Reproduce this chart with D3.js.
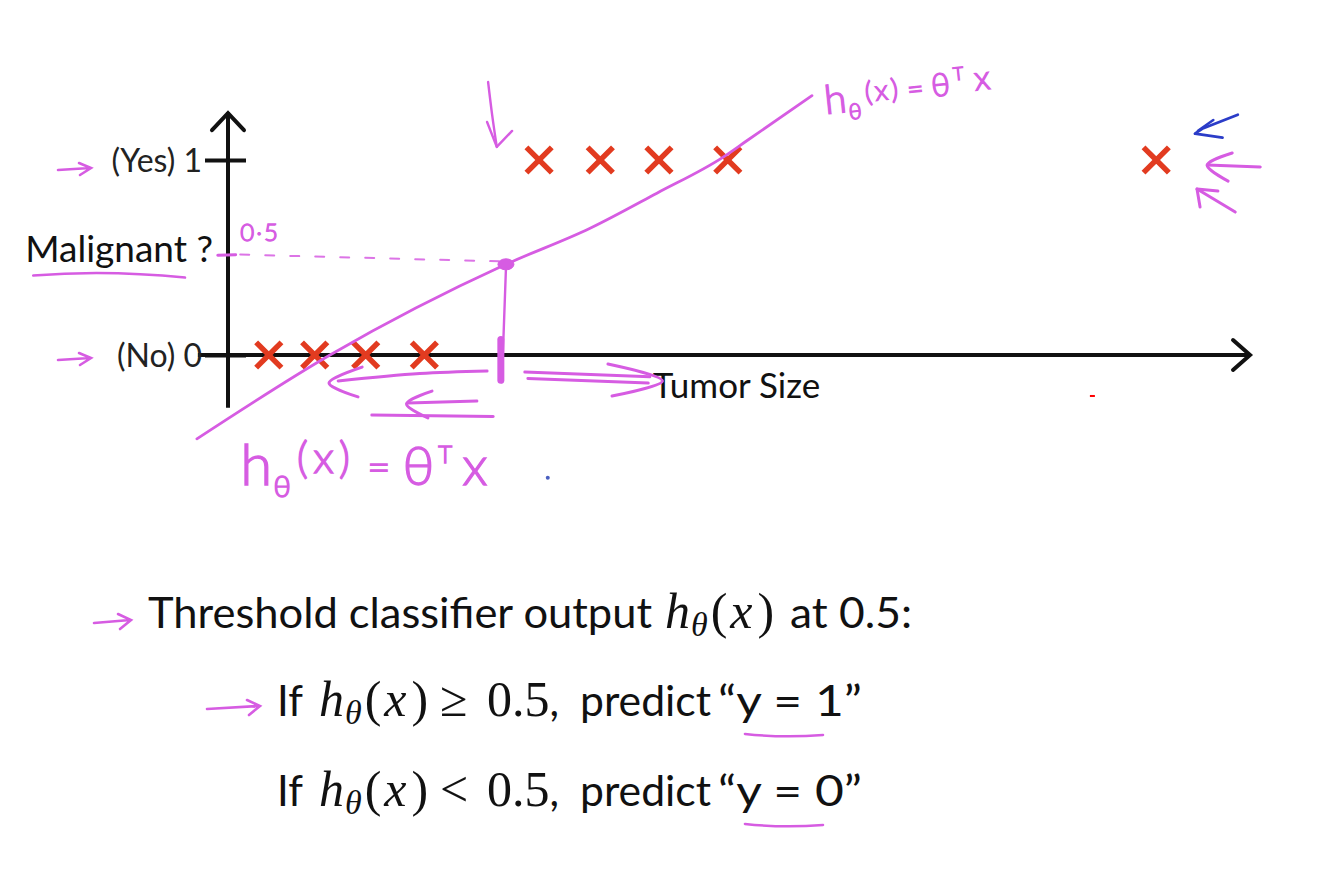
<!DOCTYPE html>
<html><head><meta charset="utf-8">
<script src="https://cdn.jsdelivr.net/npm/d3@7"></script>
<style>html,body{margin:0;padding:0;background:#fff;} svg{display:block;background:#fff}</style>
</head><body>
<svg id="chart" width="1319" height="872"></svg>
<script>
// ---------------- data ----------------
const benignSizes = [0.8, 1.7, 2.7, 3.85];            // label y = 0 (No)
const malignantSizes = [6.1, 7.3, 8.45, 9.8, 18.2];   // label y = 1 (Yes)
const hypothesisSizes = [-0.61, 2.0, 5.45, 7.1, 8.41, 9.71, 10.18, 11.45];
const hypothesisValues = [-0.43, 0.0, 0.465, 0.65, 0.83, 1.015, 1.10, 1.33];
const yTickValues = [0, 1];
const yTickLabels = ["(No) 0", "(Yes) 1"];
const threshold = 0.5;
const yAxisLabel = "Malignant ?";
const xAxisLabel = "Tumor Size";

// ---------------- setup ----------------
const svg = d3.select("#chart");
const x = d3.scaleLinear().domain([0, 20]).range([228, 1248]);
const y = d3.scaleLinear().domain([0, 1]).range([355, 160]);

const INK = "#111";
const MAG = "#d65ce2";
const RED = "#e23b20";
const BLUE = "#2b3cc8";
const SANS = "Lato, 'Open Sans', sans-serif";
const SERIF = "'Liberation Serif', 'DejaVu Serif', serif";
const HAND = "Lato, 'Open Sans', sans-serif";

const chart = svg.append("g");

// ---------------- axes ----------------
const x0 = x(0), yTop = y(1.245), yBot = y(-0.27);
chart.append("line").attr("x1", x0).attr("x2", x0).attr("y1", yTop).attr("y2", yBot)
  .attr("stroke", INK).attr("stroke-width", 4);
chart.append("path").attr("d", `M${x0-16},${yTop+18}L${x0},${yTop+1}L${x0+16},${yTop+18}`)
  .attr("fill", "none").attr("stroke", INK).attr("stroke-width", 4).attr("stroke-linecap", "round");

const xl = x(-0.59), xr = x(20.02), y0 = y(0);
chart.append("line").attr("x1", xl).attr("x2", xr).attr("y1", y0).attr("y2", y0)
  .attr("stroke", INK).attr("stroke-width", 4);
chart.append("path").attr("d", `M${xr-16},${y0-15}L${xr+1},${y0}L${xr-16},${y0+15}`)
  .attr("fill", "none").attr("stroke", INK).attr("stroke-width", 4).attr("stroke-linecap", "round");

const yAxis = d3.axisLeft(y).tickValues(yTickValues)
  .tickFormat((d, i) => yTickLabels[i]).tickSize(23).tickPadding(3);
const ya = chart.append("g").attr("transform", `translate(${x0},0)`).call(yAxis);
ya.select(".domain").remove();
ya.selectAll(".tick line").attr("x1", 18).attr("stroke", INK).attr("stroke-width", 4);
ya.selectAll(".tick text").attr("font-family", SANS).attr("font-size", 32)
  .attr("fill", "#222").attr("dy", "0.36em");

const yLab = chart.append("text").attr("x", x0 - 15).attr("y", y(threshold) + 4)
  .attr("text-anchor", "end").attr("font-family", SANS).attr("font-size", 37)
  .attr("fill", "#111").text(yAxisLabel);
chart.append("text").attr("x", x(8.33)).attr("y", y0 + 43)
  .attr("font-family", SANS).attr("font-size", 35).attr("fill", "#111").text(xAxisLabel);

// ---------------- hypothesis & threshold ----------------
const ann = svg.append("g");
const smooth = d3.line().x(d => x(d[0])).y(d => y(d[1])).curve(d3.curveCatmullRom);
const mono = d3.line().x(d => x(d[0])).y(d => y(d[1])).curve(d3.curveMonotoneX);
const poly = d3.line().x(d => x(d[0])).y(d => y(d[1]));
function stroke(pts, color = MAG, w = 3, gen = poly) {
  return ann.append("path").attr("d", gen(pts)).attr("fill", "none").attr("stroke", color)
    .attr("stroke-width", w).attr("stroke-linecap", "round").attr("stroke-linejoin", "round");
}

const hyp = hypothesisSizes.map((s, i) => [s, hypothesisValues[i]]);
stroke(hyp, MAG, 2.8, mono);

const tSize = hypothesisSizes[2], tVal = hypothesisValues[2];
stroke([[0.24, threshold + 0.015], [tSize - 0.1, threshold - 0.02]], MAG, 2)
  .attr("stroke-dasharray", "9,16").attr("opacity", 0.85);
stroke([[-0.2, threshold + 0.012], [0.15, threshold + 0.014]], MAG, 3);
ann.append("ellipse").attr("cx", x(tSize)).attr("cy", y(tVal)).attr("rx", 8).attr("ry", 5.5)
  .attr("fill", MAG).attr("stroke", MAG);
stroke([[tSize, tVal - 0.02], [tSize - 0.08, -0.14]], MAG, 2.4);
stroke([[tSize - 0.1, 0.08], [tSize - 0.1, -0.13]], MAG, 7);

// ---------------- data crosses ----------------
const cross = d3.symbol().type(d3.symbolX).size(420);
chart.append("g").selectAll("path.b").data(benignSizes).join("path")
  .attr("transform", d => `translate(${x(d)},${y(0)})`).attr("d", cross)
  .attr("fill", "none").attr("stroke", RED).attr("stroke-width", 5.5);
chart.append("g").selectAll("path.m").data(malignantSizes).join("path")
  .attr("transform", d => `translate(${x(d)},${y(1)})`).attr("d", cross)
  .attr("fill", "none").attr("stroke", RED).attr("stroke-width", 5.5);

// ---------------- handwritten strokes ----------------
stroke([[5.08, -0.082], [3.76, -0.095], [2.16, -0.133]], MAG, 3, smooth);
stroke([[2.63, -0.062], [1.98, -0.144], [2.55, -0.215]], MAG, 3, smooth);
stroke([[4.88, -0.236], [3.53, -0.246]], MAG, 3);
stroke([[4.0, -0.185], [3.5, -0.251], [3.92, -0.323]], MAG, 3, smooth);
stroke([[2.82, -0.308], [5.2, -0.315]], MAG, 3);
stroke([[5.82, -0.087], [8.27, -0.112]], MAG, 3);
stroke([[5.88, -0.12], [8.24, -0.144]], MAG, 3);
stroke([[7.45, -0.046], [8.52, -0.133], [7.53, -0.21]], MAG, 3, smooth);
stroke([[5.1, 1.4], [5.18, 1.23], [5.27, 1.067]], MAG, 2.4, smooth);
stroke([[5.08, 1.195], [5.27, 1.067], [5.57, 1.149]], MAG, 2.4);
stroke([[19.8, 1.232], [19.1, 1.16], [18.96, 1.135], [19.5, 1.115]], BLUE, 2.8);
stroke([[19.32, 1.205], [19.02, 1.15]], BLUE, 2.6);
stroke([[20.24, 0.964], [19.2, 0.974]], MAG, 3);
stroke([[19.69, 1.036], [19.2, 0.974], [19.61, 0.892]], MAG, 3, smooth);
stroke([[19.75, 0.733], [19.0, 0.851]], MAG, 3);
stroke([[19.41, 0.841], [19.0, 0.851], [19.06, 0.759]], MAG, 3);
ann.append("rect").attr("x", x(16.9)).attr("y", y(-0.205)).attr("width", 5).attr("height", 2).attr("fill", "#f00");
ann.append("circle").attr("cx", x(6.27)).attr("cy", y(-0.63)).attr("r", 2).attr("fill", "#4a5fc0");

yTickValues.forEach(v => {
  const yy = y(v) + (v === 1 ? 9 : 4);
  ann.append("path").attr("d", `M58,${yy+1}L90,${yy-1}M79,${yy-6}L91,${yy-1}L80,${yy+6}`)
    .attr("fill", "none").attr("stroke", MAG).attr("stroke-width", 2.6).attr("stroke-linecap", "round");
});

const lb = yLab.node().getBBox();
ann.append("path").attr("d", `M${lb.x+8},${lb.y+lb.height+6}Q${lb.x+80},${lb.y+lb.height} ${lb.x+lb.width-28},${lb.y+lb.height+8}`)
  .attr("fill", "none").attr("stroke", MAG).attr("stroke-width", 2.6).attr("stroke-linecap", "round");

function hw(parent, xx, base, parts, rot) {
  const t = parent.append("text").attr("x", xx).attr("y", base).attr("fill", MAG)
    .attr("stroke", MAG).attr("stroke-width", 1.3)
    .attr("font-family", HAND).attr("font-weight", 300);
  if (rot) t.attr("transform", `rotate(${rot},${xx},${base})`);
  parts.forEach(p => {
    const s = t.append("tspan").attr("font-size", p.s).attr("dy", p.dy || 0)
      .attr("dx", p.dx || 0).text(p.t);
    if (p.ls) s.attr("letter-spacing", p.ls);
  });
  return t;
}
hw(ann, x(0.24), y(0.585), [{t: "0·5", s: 24}]).attr("letter-spacing", 2);
hw(ann, x(0.24), y(-0.665), [
  {t: "h", s: 58}, {t: "θ", s: 30, dy: 12, dx: 1}, {t: "(x)", s: 44, dy: -24, dx: 6, ls: 5},
  {t: "=", s: 40, dy: 8, dx: 12}, {t: "θ", s: 54, dy: 4, dx: 12}, {t: "T", s: 24, dy: -22, dx: 4},
  {t: "x", s: 54, dy: 22, dx: 10}
]);
hw(ann, x(11.72), y(1.235), [
  {t: "h", s: 40}, {t: "θ", s: 22, dy: 8, dx: 1}, {t: "(x)", s: 28, dy: -16, dx: 5, ls: 3},
  {t: "=", s: 28, dy: 2, dx: 6}, {t: "θ", s: 32, dx: 8}, {t: "T", s: 18, dy: -14, dx: 4},
  {t: "x", s: 34, dy: 12, dx: 10}
], -6);

// ---------------- text block ----------------
const tb = svg.append("g");
function typeset(base, parts) {
  let cx = 0; const out = [];
  parts.forEach(p => {
    if (p.at != null) cx = p.at;
    const t = tb.append("text").attr("x", cx).attr("y", base + (p.dy || 0))
      .attr("font-family", p.f).attr("font-size", p.s).attr("font-style", p.i ? "italic" : "normal")
      .attr("fill", "#111").text(p.t);
    if (p.len) t.attr("textLength", p.len).attr("lengthAdjust", "spacingAndGlyphs");
    const w = p.len || t.node().getComputedTextLength();
    out.push({x: cx, w});
    cx += w + (p.gap || 0);
  });
  return out;
}
const hTheta = at => [
  {t: "h", f: SERIF, s: 50, i: true, at, gap: 1},
  {t: "θ", f: SERIF, s: 34, i: true, dy: 8, gap: 3},
  {t: "(", f: SERIF, s: 50, gap: 3},
  {t: "x", f: SERIF, s: 50, i: true, gap: 5},
  {t: ")", f: SERIF, s: 50}
];
const L1 = 628, L2 = 716, L3 = 806;
typeset(L1, [{t: "Threshold classifier output", f: SANS, s: 42, at: 148, len: 504},
  ...hTheta(665), {t: "at 0.5:", f: SANS, s: 42, at: 790, len: 122}]);
const r2 = typeset(L2, [{t: "If", f: SANS, s: 42, at: 277}, ...hTheta(319),
  {t: "≥", f: SERIF, s: 50, at: 440}, {t: "0.5", f: SERIF, s: 50, at: 487},
  {t: ",", f: SANS, s: 42, gap: 0}, {t: "predict", f: SANS, s: 42, at: 580, len: 131},
  {t: "“y = 1”", f: SANS, s: 42, at: 718, len: 144}]);
const r3 = typeset(L3, [{t: "If", f: SANS, s: 42, at: 277}, ...hTheta(319),
  {t: "<", f: SERIF, s: 50, at: 440}, {t: "0.5", f: SERIF, s: 50, at: 487},
  {t: ",", f: SANS, s: 42, gap: 0}, {t: "predict", f: SANS, s: 42, at: 580, len: 131},
  {t: "“y = 0”", f: SANS, s: 42, at: 718, len: 144}]);
[[r2, L2], [r3, L3]].forEach(([r, b]) => {
  const q = r[r.length - 1];
  tb.append("path").attr("d", `M${q.x+27},${b+18}Q${q.x+65},${b+22} ${q.x+105},${b+19}`)
    .attr("fill", "none").attr("stroke", MAG).attr("stroke-width", 2.6).attr("stroke-linecap", "round");
});
[[148, L1 - 7, 36], [277, L2 - 9, 52]].forEach(([tx, yy, len]) => {
  const s = tx - 18 - len, e = tx - 18;
  tb.append("path").attr("d", `M${s},${yy+2}L${e},${yy-1}M${e-12},${yy-7}L${e+1},${yy-1}L${e-10},${yy+8}`)
    .attr("fill", "none").attr("stroke", MAG).attr("stroke-width", 2.6).attr("stroke-linecap", "round");
});
</script>
</body></html>
